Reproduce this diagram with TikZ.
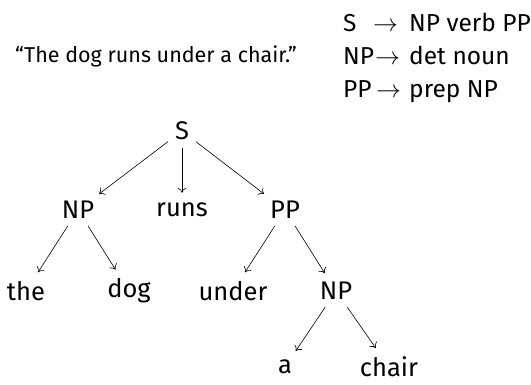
\documentclass[tikz,border=0pt]{standalone}
\usepackage{fontspec}
\setmainfont{Fira Sans}
\usetikzlibrary{arrows.meta}
\begin{document}
\begin{tikzpicture}[x=1pt,y=-1pt,
  word/.style={inner sep=2.5pt, font=\fontsize{25.5}{30}\selectfont},
  rulepart/.style={anchor=base west, inner sep=0pt, font=\fontsize{24.5}{30}\selectfont},
  sentence/.style={anchor=base, inner sep=0pt, font=\fontsize{21.5}{25}\selectfont},
  arr/.style={-{To[length=5pt,width=9pt]}, line width=0.6pt,
              shorten <=5.5pt, shorten >=7.5pt}]
\useasboundingbox (0,0) rectangle (531,384);

% example sentence
\node[sentence] (quote) at (156,62) {“The dog runs under a chair.”};

% grammar rules
\node[rulepart] (r1l) at (343,31) {S};
\node[rulepart] (r1a) at (373,31) {$\to$};
\node[rulepart] (r1r) at (409,31) {NP verb PP};
\node[rulepart] (r2l) at (343,64) {NP};
\node[rulepart] (r2a) at (375,64) {$\to$};
\node[rulepart] (r2r) at (409,64) {det noun};
\node[rulepart] (r3l) at (343,97) {PP};
\node[rulepart] (r3a) at (376,97) {$\to$};
\node[rulepart] (r3r) at (409,97) {prep NP};

% parse tree
\node[word] (s)     at (182,131) {S};
\node[word] (np1)   at (78,210)  {NP};
\node[word] (runs)  at (182,210) {runs};
\node[word] (pp)    at (285,210) {PP};
\node[word] (the)   at (26,291)  {the};
\node[word] (dog)   at (129,291) {dog};
\node[word] (under) at (233,291) {under};
\node[word] (np2)   at (336,291) {NP};
\node[word] (a)     at (285,367) {a};
\node[word] (chair) at (389,367) {chair};

\draw[arr] (s) -- (np1);
\draw[arr] (s) -- (runs);
\draw[arr] (s) -- (pp);
\draw[arr] (np1) -- (the);
\draw[arr] (np1) -- (dog);
\draw[arr] (pp) -- (under);
\draw[arr] (pp) -- (np2);
\draw[arr] (np2) -- (a);
\draw[arr] (np2) -- (chair);
\end{tikzpicture}
\end{document}
